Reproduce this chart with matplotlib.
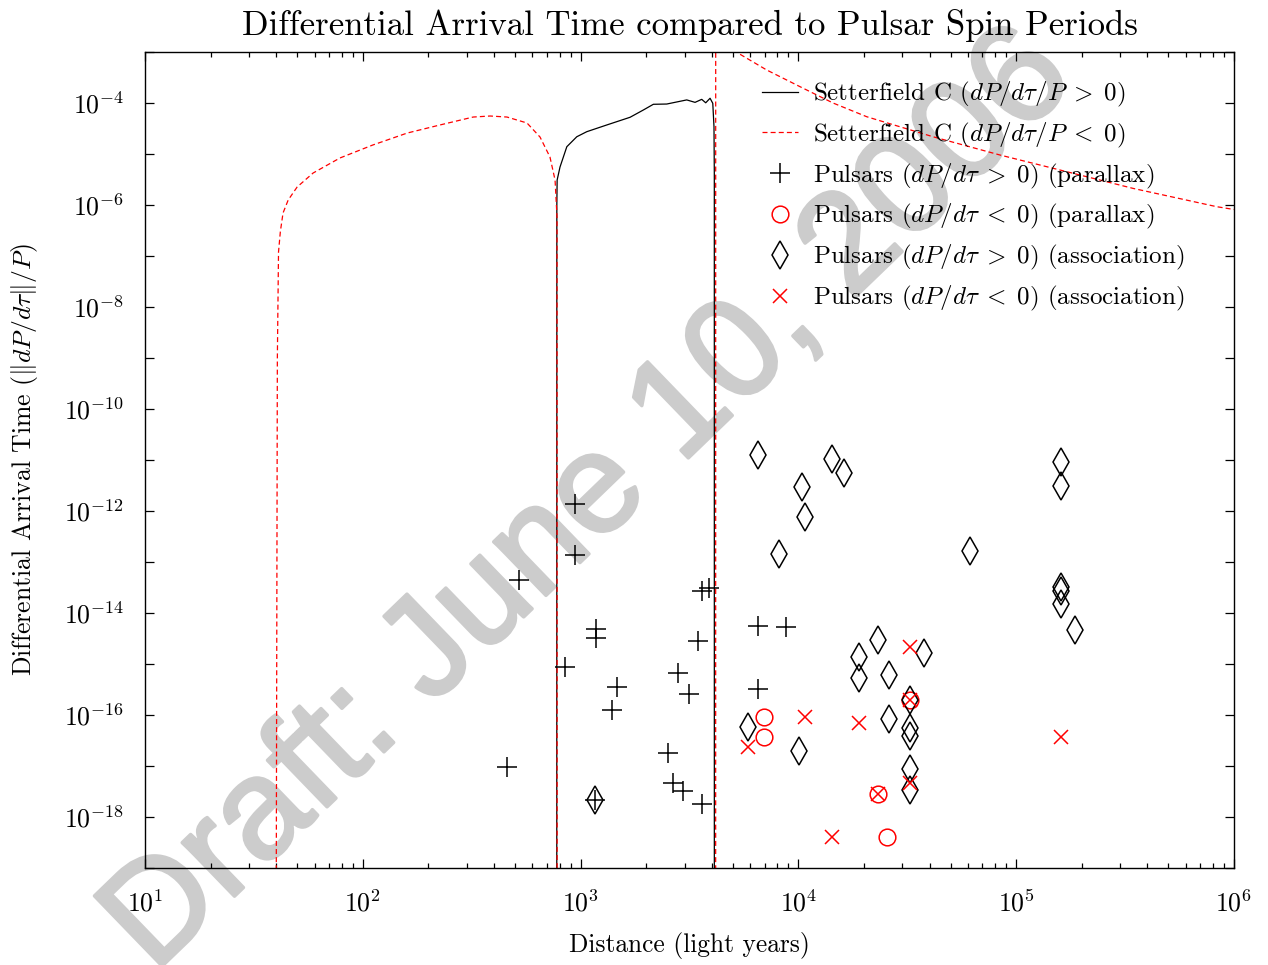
import matplotlib
matplotlib.use('Agg')
import matplotlib.pyplot as plt
import matplotlib.ticker as mticker
import matplotlib.patheffects as pe
import numpy as np

# LaTeX-like look
plt.rcParams['font.family'] = 'serif'
plt.rcParams['font.serif'] = ['cmr10']
plt.rcParams['mathtext.fontset'] = 'cm'
plt.rcParams['axes.formatter.use_mathtext'] = True

# Setterfield C curve, positive part (light years, |dP/dtau|/P)
pos_x = [777, 777.5, 780, 804, 864, 960, 1067, 1318, 1686, 1941, 2157, 2485,
         3070, 3352, 3597, 3752, 3929, 4043, 4095, 4109, 4110]
pos_y = [1e-20, 1.0e-6, 3.09e-6, 5.56e-6, 1.39e-5, 2.18e-5, 2.74e-5, 3.71e-5,
         5.25e-5, 7.30e-5, 9.44e-5, 9.55e-5, 1.15e-4, 1.03e-4, 1.18e-4,
         1.01e-4, 1.24e-4, 9.86e-5, 3.43e-5, 4.24e-6, 1e-20]

# Setterfield C curve, negative part (two pieces)
neg1_x = [40.0, 40.5, 41.0, 41.8, 43.0, 45.4, 49.9, 59.1, 78.5, 111, 160, 226,
          321, 384, 459, 567, 651, 723, 763, 779, 780]
neg1_y = [1e-20, 1e-9, 1.2e-7, 3.0e-7, 6.97e-7, 1.25e-6, 2.25e-6, 4.24e-6,
          8.36e-6, 1.50e-5, 2.58e-5, 3.71e-5, 5.31e-5, 5.56e-5, 5.31e-5,
          4.06e-5, 2.15e-5, 8.73e-6, 3.09e-6, 5.82e-7, 1e-20]
neg2_x = [4168, 4170, 5300, 7150, 10170, 14420, 20600, 41500, 84300, 170600,
          343700, 833000, 1e6]
neg2_y = [1e-20, 1e0, 9.44e-4, 4.44e-4, 2.09e-4, 1.0e-4, 5.38e-5, 2.18e-5,
          9.55e-6, 4.50e-6, 2.12e-6, 9.27e-7, 8.17e-7]

# pulsars dP/dtau > 0, parallax
plus_x = [942, 942, 521, 3597, 3899, 1173, 1173, 3450, 848, 2800, 1465, 3155,
          1399, 2512, 458, 2666, 2963, 3622, 1165, 6505, 8770, 6505]
plus_y = [1.37e-12, 1.37e-13, 4.44e-14, 2.70e-14, 3.13e-14, 4.79e-15,
          3.19e-15, 2.79e-15, 8.85e-16, 6.75e-16, 3.59e-16, 2.58e-16,
          1.25e-16, 1.77e-17, 9.44e-18, 4.58e-18, 3.28e-18, 1.80e-18,
          2.15e-18, 5.48e-15, 5.40e-15, 3.28e-16]

# pulsars dP/dtau < 0, parallax
circ_x = [6970, 6970, 32530, 23120, 25430]
circ_y = [9.27e-17, 3.76e-17, 1.97e-16, 2.83e-18, 4.00e-19]

# pulsars dP/dtau > 0, association
diam_x = [1165, 6505, 14320, 16250, 10420, 10760, 8150, 160700, 160700,
          61550, 160700, 160700, 160700, 186200, 23120, 18920, 37840, 18920,
          26140, 32530, 26140, 32530, 32530, 5850, 10060, 32530, 32530]
diam_y = [2.15e-18, 1.25e-11, 1.03e-11, 5.49e-12, 2.92e-12, 7.62e-13,
          1.44e-13, 9.27e-12, 3.09e-12, 1.67e-13, 3.31e-14, 2.76e-14,
          1.50e-14, 4.65e-15, 2.96e-15, 1.39e-15, 1.62e-15, 5.25e-16,
          6.08e-16, 1.97e-16, 8.24e-17, 5.56e-17, 3.87e-17, 5.90e-17,
          2.00e-17, 8.73e-18, 3.38e-18]

# pulsars dP/dtau < 0, association
cross_x = [32530, 5850, 10760, 18920, 32530, 32530, 23120, 14320, 160700]
cross_y = [2.18e-15, 2.39e-17, 9.27e-17, 6.87e-17, 1.97e-16, 4.58e-18,
           2.83e-18, 4.00e-19, 3.66e-17]

fig = plt.figure(figsize=(12.68, 9.65), dpi=100)
ax = fig.add_axes([0.1144, 0.1005, 0.8588, 0.8456])
ax.set_facecolor('none')

# watermark behind everything (regular face, strokes thickened a little)
wm = fig.text(0.465, 0.48, 'Draft: June 10, 2006', rotation=44, fontsize=102,
              color='#cccccc', ha='center', va='center',
              family='Liberation Sans', zorder=-1)
wm.set_path_effects([pe.withStroke(linewidth=2.5, foreground='#cccccc')])

ax.plot(pos_x, pos_y, color='k', lw=0.9, label=r'Setterfield C ($dP/d\tau/P\;>\;0$)')
neg_x = neg1_x + [np.nan] + neg2_x
neg_y = neg1_y + [np.nan] + neg2_y
ax.plot(neg_x, neg_y, color='r', lw=0.9, dashes=(4, 2.5),
        label=r'Setterfield C ($dP/d\tau/P\;<\;0$)')

ax.plot(plus_x, plus_y, ls='none', marker='+', ms=14.5, mew=1.1, color='k',
        label=r'Pulsars ($dP/d\tau\;>\;0$) (parallax)')
ax.plot(circ_x, circ_y, ls='none', marker='o', ms=12, mew=1.1, mfc='none',
        mec='r', label=r'Pulsars ($dP/d\tau\;<\;0$) (parallax)')
ax.plot(diam_x, diam_y, ls='none', marker='d', ms=14.2, mew=1.1, mfc='none',
        mec='k', label=r'Pulsars ($dP/d\tau\;>\;0$) (association)')
ax.plot(cross_x, cross_y, ls='none', marker='x', ms=10.5, mew=1.1, color='r',
        label=r'Pulsars ($dP/d\tau\;<\;0$) (association)')

ax.set_xscale('log')
ax.set_yscale('log')
ax.set_xlim(1e1, 1e6)
ax.set_ylim(1e-19, 1e-3)

# y: tick every decade, label every second one
ax.yaxis.set_major_locator(mticker.FixedLocator([10.0**e for e in range(-18, -3, 2)]))
ax.yaxis.set_minor_locator(mticker.FixedLocator([10.0**e for e in range(-19, -2, 2)]))
ax.yaxis.set_minor_formatter(mticker.NullFormatter())
ax.xaxis.set_major_locator(mticker.LogLocator(base=10, numticks=10))
ax.xaxis.set_minor_locator(mticker.LogLocator(base=10, subs=np.arange(2, 10), numticks=10))

ax.tick_params(which='both', direction='in', top=True, right=True, width=0.9)
ax.tick_params(axis='y', which='both', length=6.5, pad=15, labelsize=18.5)
ax.tick_params(axis='x', which='major', length=6.5, pad=16, labelsize=18.5)
ax.tick_params(axis='x', which='minor', length=3.5)
for s in ax.spines.values():
    s.set_linewidth(1.0)

ax.set_title('Differential Arrival Time compared to Pulsar Spin Periods',
             fontsize=25, pad=12)
ax.set_xlabel('Distance (light years)', fontsize=18.3, labelpad=11)
ax.set_ylabel(r'Differential Arrival Time ($\|dP/d\tau\|/P$)', fontsize=18.5,
              labelpad=17)

ax.legend(loc='upper left', bbox_to_anchor=(0.5666, 0.966), frameon=False,
          fontsize=18, numpoints=1, handlelength=1.45, handletextpad=0.6,
          labelspacing=0.47, borderpad=0, borderaxespad=0)

fig.savefig('out.png', dpi=100)
